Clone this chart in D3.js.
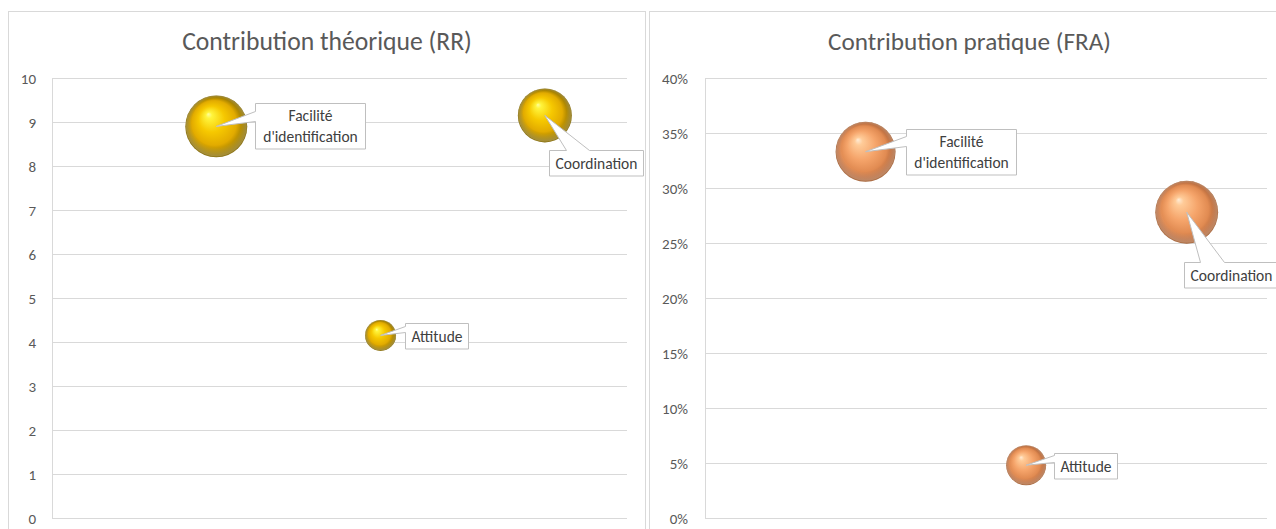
<!DOCTYPE html>
<html>
<head>
<meta charset="utf-8">
<script src="https://cdn.jsdelivr.net/npm/d3@7"></script>
<style>
  html, body { margin: 0; padding: 0; background: #ffffff; }
  svg { display: block; }
</style>
</head>
<body>
<svg id="chart" width="1276" height="529"></svg>
<script>
// ---- data ----
const categories = ["Facilité d'identification", "Attitude", "Coordination"];
const xPositions = [1, 2, 3];
const rrValues = [8.9, 4.15, 9.15];
const rrSizes = [9.6, 2.4, 7.3];
const fraValues = [0.333, 0.048, 0.278];
const fraSizes = [9.0, 4.0, 9.9];
const rrTicks = [0, 1, 2, 3, 4, 5, 6, 7, 8, 9, 10];
const fraTicks = [0, 0.05, 0.10, 0.15, 0.20, 0.25, 0.30, 0.35, 0.40];
const titles = ["Contribution théorique (RR)", "Contribution pratique (FRA)"];

// ---- layout ----
const FONT = "Carlito, Calibri, Lato, 'Open Sans', sans-serif";
const panels = [
  {
    title: titles[0], titleWidth: 290, values: rrValues, sizes: rrSizes,
    ticks: rrTicks, yMax: 10, fmt: d => d3.format("d")(d), fill: "url(#gold)",
    frame: { x: 8.5, y: 11.5, w: 637, h: 540 },
    plot: { l: 52, r: 627, t: 78, b: 518 }, tickRight: 36,
    callouts: [
      { dx: 39, dy: -23, side: "left", base: [8, 18] },
      { dx: 24.5, dy: -12, side: "left", base: [3, 9] },
      { dx: 4, dy: 35, side: "top", base: [17, 40] }
    ]
  },
  {
    title: titles[1], titleWidth: 283, values: fraValues, sizes: fraSizes,
    ticks: fraTicks, yMax: 0.4, fmt: d => d3.format(".0%")(d), fill: "url(#copper)",
    frame: { x: 649.5, y: 11.5, w: 640, h: 540 },
    plot: { l: 705, r: 1267, t: 78, b: 518 }, tickRight: 688,
    callouts: [
      { dx: 40, dy: -23, side: "left", base: [7, 17] },
      { dx: 28, dy: -12, side: "left", base: [2, 9] },
      { dx: -3, dy: 50, side: "top", base: [16, 40] }
    ]
  }
];

const svg = d3.select("#chart");

// sphere shading
const defs = svg.append("defs");
function sphere(id, stops) {
  const g = defs.append("radialGradient").attr("id", id)
    .attr("cx", "0.5").attr("cy", "0.5").attr("r", "0.5")
    .attr("fx", "0.37").attr("fy", "0.3");
  stops.forEach(([o, c]) => g.append("stop").attr("offset", o).attr("stop-color", c));
}
sphere("gold", [[0, "#ffffa0"], [0.1, "#fff43c"], [0.42, "#f6c800"], [0.72, "#e2ab00"], [0.88, "#a98400"], [1, "#7f6500"]]);
sphere("copper", [[0, "#ffecd6"], [0.13, "#ffcb98"], [0.48, "#f5a46a"], [0.76, "#e18b52"], [0.9, "#bd6f40"], [1, "#a36034"]]);
// soft reflected light along the lower rim
const rim = defs.append("radialGradient").attr("id", "rim")
  .attr("cx", "0.5").attr("cy", "0.5").attr("r", "0.5").attr("fx", "0.5").attr("fy", "0.2");
rim.append("stop").attr("offset", 0.8).attr("stop-color", "#ffffff").attr("stop-opacity", 0);
rim.append("stop").attr("offset", 0.97).attr("stop-color", "#ffffff").attr("stop-opacity", 0.22);
rim.append("stop").attr("offset", 1).attr("stop-color", "#ffffff").attr("stop-opacity", 0);

const rScale = d3.scaleSqrt().domain([0, 10]).range([0, 31.6]);

function calloutPath(x0, y0, w, h, tx, ty, side, a, b) {
  if (side === "left") {
    return `M${x0},${y0}H${x0 + w}V${y0 + h}H${x0}V${y0 + b}L${tx},${ty}L${x0},${y0 + a}Z`;
  }
  return `M${x0},${y0}H${x0 + a}L${tx},${ty}L${x0 + b},${y0}H${x0 + w}V${y0 + h}H${x0}Z`;
}

panels.forEach(p => {
  const g = svg.append("g");

  g.append("rect")
    .attr("x", p.frame.x).attr("y", p.frame.y)
    .attr("width", p.frame.w).attr("height", p.frame.h)
    .attr("fill", "#ffffff").attr("stroke", "#d9d9d9").attr("stroke-width", 1);

  const x = d3.scaleLinear().domain([0, 3.5]).range([p.plot.l, p.plot.r]);
  const y = d3.scaleLinear().domain([0, p.yMax]).range([p.plot.b, p.plot.t]);

  // title, sized to its box width
  const cx = p.frame.x + p.frame.w / 2;
  const title = g.append("text")
    .attr("x", cx).attr("y", 50)
    .attr("text-anchor", "middle")
    .attr("font-family", FONT).attr("font-size", 25)
    .attr("fill", "#595959").text(p.title);
  const tw = title.node().getComputedTextLength();
  title.attr("font-size", 25 * p.titleWidth / tw);

  // horizontal gridlines
  const yAxis = d3.axisLeft(y).tickValues(p.ticks).tickFormat(p.fmt)
    .tickSize(-(p.plot.r - p.plot.l)).tickPadding(p.plot.l - p.tickRight);
  const ax = g.append("g").attr("transform", `translate(${p.plot.l},0)`).call(yAxis);
  ax.select(".domain").remove();
  ax.selectAll(".tick line").attr("stroke", "#d9d9d9").attr("stroke-width", 1)
    .attr("shape-rendering", "crispEdges");
  ax.selectAll(".tick text")
    .attr("font-family", FONT).attr("font-size", 15).attr("fill", "#595959")
    .attr("dy", "0.36em");

  // vertical axis line
  g.append("line")
    .attr("x1", p.plot.l).attr("x2", p.plot.l)
    .attr("y1", p.plot.t).attr("y2", p.plot.b)
    .attr("stroke", "#d9d9d9").attr("shape-rendering", "crispEdges");

  const pts = categories.map((c, i) => ({
    name: c, cx: x(xPositions[i]), cy: y(p.values[i]), r: rScale(p.sizes[i]), co: p.callouts[i]
  }));

  // bubbles
  const b = g.append("g").selectAll("g").data(pts).join("g");
  b.append("circle").attr("cx", d => d.cx).attr("cy", d => d.cy).attr("r", d => d.r)
    .attr("fill", p.fill);
  b.append("circle").attr("cx", d => d.cx).attr("cy", d => d.cy).attr("r", d => d.r)
    .attr("fill", "url(#rim)");

  // data-label callouts
  pts.forEach(d => {
    const lines = d.name.split(" ");
    const lg = g.append("g");
    const path = lg.append("path");
    const texts = lines.map(l => lg.append("text")
      .attr("font-family", FONT).attr("font-size", 15.5).attr("fill", "#404040")
      .attr("text-anchor", "middle").text(l));
    const maxW = d3.max(texts, t => t.node().getComputedTextLength());
    const w = Math.round(maxW + (lines.length > 1 ? 16 : 12));
    const h = lines.length > 1 ? 45.5 : 25.5;
    const x0 = Math.round(d.cx + d.co.dx) + 0.5;
    const y0 = Math.round(d.cy + d.co.dy) + 0.5;
    path.attr("d", calloutPath(x0, y0, w, h, d.cx, d.cy, d.co.side, d.co.base[0], d.co.base[1]))
      .attr("fill", "#ffffff").attr("stroke", "#bfbfbf").attr("stroke-width", 1);
    const lh = 20.5;
    texts.forEach((t, i) => t.attr("x", x0 + w / 2)
      .attr("y", y0 + h / 2 + (i - (lines.length - 1) / 2) * lh)
      .attr("dy", "0.35em"));
  });
});
</script>
</body>
</html>
